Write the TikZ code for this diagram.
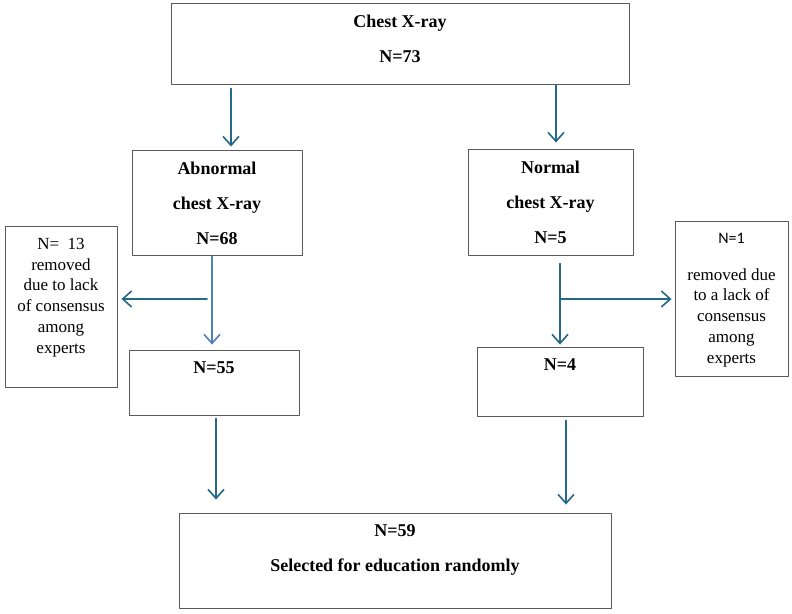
\documentclass[tikz,border=0pt]{standalone}
\usepackage{fontspec}
\setmainfont{Liberation Serif}
\setsansfont{Carlito}
\usetikzlibrary{arrows.meta}
\definecolor{arrowteal}{RGB}{36,104,138}
\definecolor{arrowblue}{RGB}{78,128,190}
\definecolor{boxgray}{RGB}{90,90,90}
\newcommand{\flowtext}[3]{\parbox[c][#2][t]{#1}{\centering\vspace*{12pt}#3}}
\tikzset{
  flowbox/.style={draw=boxgray, line width=0.9pt, inner sep=0pt, fill=white},
  boldtext/.style={font=\bfseries\fontsize{18}{35}\selectfont},
  smalltext/.style={font=\fontsize{17}{20.8}\selectfont},
  flow/.style={draw=arrowteal, line width=1.6pt, -{Straight Barb[length=9pt,width=16pt]}}
}
\begin{document}
\begin{tikzpicture}[x=1pt, y=-1pt, line join=round, line cap=round]
	\useasboundingbox (0,0) rectangle (792,613);
	% Boxes
	\node[flowbox, boldtext] (top) at (400,43.5) {\flowtext{458pt}{81pt}{Chest X-ray\\N=73}};
	\node[flowbox, boldtext] (abn) at (217,202.5) {\flowtext{170pt}{105pt}{Abnormal\\chest X-ray\\N=68}};
	\node[flowbox, boldtext] (nor) at (550.5,202) {\flowtext{165pt}{106pt}{Normal\\chest X-ray\\N=5}};
	\node[flowbox, smalltext] (rem13) at (61,306.5) {\flowtext{112pt}{161pt}{N=\enspace13\\removed\\due to lack\\of consensus\\among\\experts}};
	\node[flowbox, smalltext] (rem1) at (731.5,298.5) {\flowtext{113pt}{155pt}{{\sffamily\fontsize{16}{19}\selectfont N=1}\\[16pt]removed due\\to a lack of\\consensus\\among\\experts}};
	\node[flowbox, boldtext] (n55) at (214,382.5) {\flowtext{170pt}{65pt}{N=55}};
	\node[flowbox, boldtext] (n4) at (560,381.5) {\flowtext{166pt}{69pt}{N=4}};
	\node[flowbox, boldtext] (sel) at (395,560.5) {\flowtext{432pt}{95pt}{N=59\\Selected for education randomly}};
	
	% Split points
	\coordinate (lsplit) at (207,299);
	\coordinate (rsplit) at (560,299);
	
	% Arrows
	\draw[flow, shorten <=4pt, shorten >=3pt] ([xshift=14pt]abn.north |- top.south) -- ([xshift=14pt]abn.north);
	\draw[flow, shorten <=1pt, shorten >=6pt] ([xshift=5.5pt]nor.north |- top.south) -- ([xshift=5.5pt]nor.north);
	\draw[flow, draw=arrowblue, shorten <=1pt, shorten >=5pt] ([xshift=-5pt]abn.south) -- ([xshift=-5pt]abn.south |- n55.north);
	\draw[flow, shorten >=4pt] (lsplit) -- (lsplit -| rem13.east);
	\draw[flow, shorten <=8pt, shorten >=2pt] (n4.north |- nor.south) -- (n4.north);
	\draw[flow, shorten >=3pt] (rsplit) -- (rsplit -| rem1.west);
	\draw[flow, shorten <=3pt, shorten >=13pt] ([xshift=2pt]n55.south) -- ([xshift=2pt]n55.south |- sel.north);
	\draw[flow, shorten <=4pt, shorten >=8pt] ([xshift=6pt]n4.south) -- ([xshift=6pt]n4.south |- sel.north);
\end{tikzpicture}
\end{document}
